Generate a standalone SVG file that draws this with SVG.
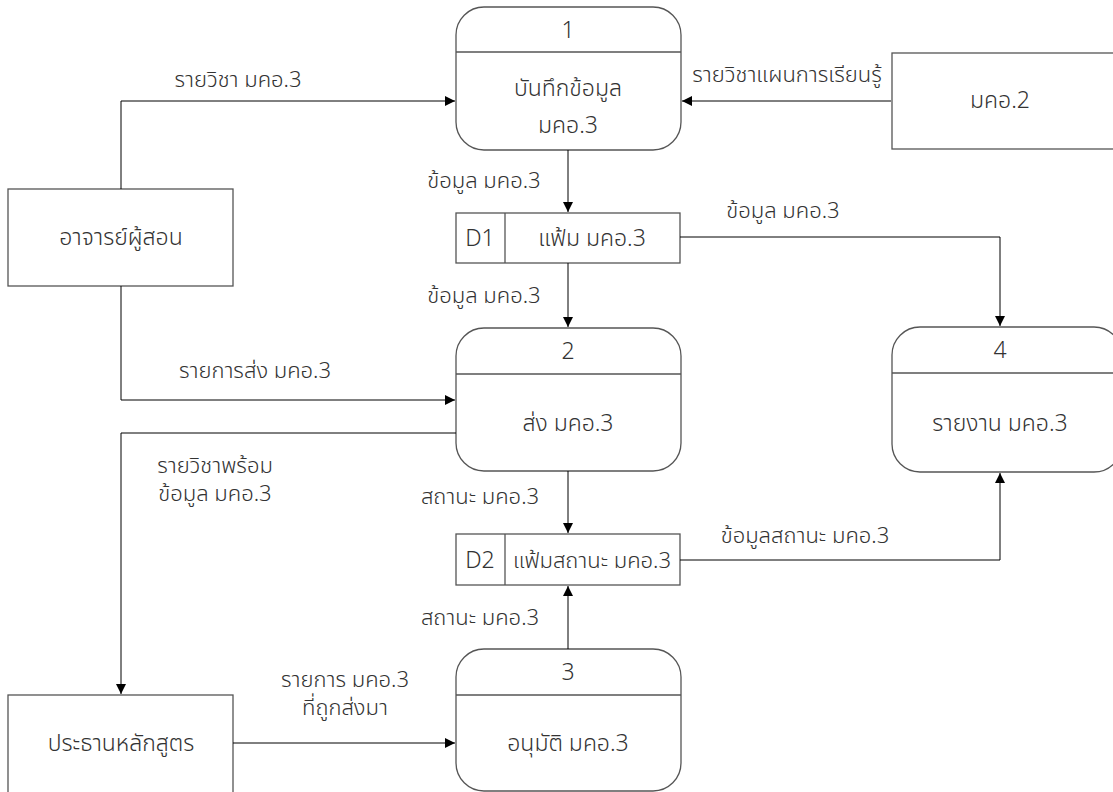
<svg xmlns="http://www.w3.org/2000/svg" width="1113" height="792" viewBox="0 0 1113 792">
<defs>
<marker id="arr" viewBox="0 0 10 10" refX="10" refY="5" markerWidth="10" markerHeight="10" markerUnits="userSpaceOnUse" orient="auto">
<path d="M0,0 L10,5 L0,10 z" fill="#000"/>
</marker>
<style>
.shape{fill:#fff;stroke:#555;stroke-width:1.3}
.div{stroke:#555;stroke-width:1.3;fill:none}
.conn{fill:none;stroke:#000;stroke-width:1;marker-end:url(#arr)}
text{font-family:"Noto Sans Thai","Noto Sans","Liberation Sans",sans-serif;fill:#333;text-anchor:middle;font-size:22px;font-weight:300}
.big{font-size:23px}
</style>
</defs>
<rect width="1113" height="792" fill="#fff"/>
<g id="p1">
<rect class="shape" x="456" y="7" width="225" height="143" rx="28"/>
<line class="div" x1="456" y1="52" x2="681" y2="52"/>
<text class="big" x="568" y="38">1</text>
<text class="big" x="568" y="96">บันทึกข้อมูล</text>
<text class="big" x="568" y="133">มคอ.3</text>
</g>
<g id="mko2">
<rect class="shape" x="892" y="53" width="230" height="96"/>
<text class="big" x="1000" y="108">มคอ.2</text>
</g>
<g id="teacher">
<rect class="shape" x="8" y="189" width="225" height="97"/>
<text class="big" x="121" y="245">อาจารย์ผู้สอน</text>
</g>
<g id="d1">
<rect class="shape" x="456" y="213" width="224" height="50"/>
<line class="div" x1="505" y1="213" x2="505" y2="263"/>
<text class="big" x="480" y="246">D1</text>
<text class="big" x="592" y="246">แฟ้ม มคอ.3</text>
</g>
<g id="p2">
<rect class="shape" x="456" y="328" width="225" height="143" rx="28"/>
<line class="div" x1="456" y1="374" x2="681" y2="374"/>
<text class="big" x="568" y="359">2</text>
<text class="big" x="568" y="431">ส่ง มคอ.3</text>
</g>
<g id="p4">
<rect class="shape" x="892" y="327" width="230" height="145" rx="28"/>
<line class="div" x1="892" y1="373" x2="1113" y2="373"/>
<text class="big" x="1000" y="358">4</text>
<text class="big" x="1000" y="431">รายงาน มคอ.3</text>
</g>
<g id="d2">
<rect class="shape" x="456" y="534" width="224" height="51"/>
<line class="div" x1="505" y1="534" x2="505" y2="585"/>
<text class="big" x="480" y="568">D2</text>
<text x="592" y="568">แฟ้มสถานะ มคอ.3</text>
</g>
<g id="chair">
<rect class="shape" x="8" y="695" width="225" height="110"/>
<text class="big" x="121" y="751">ประธานหลักสูตร</text>
</g>
<g id="p3">
<rect class="shape" x="456" y="649" width="225" height="142" rx="28"/>
<line class="div" x1="456" y1="695" x2="681" y2="695"/>
<text class="big" x="568" y="680">3</text>
<text class="big" x="568" y="751">อนุมัติ มคอ.3</text>
</g>
<g id="connectors">
<path class="conn" d="M121,189 V101 H455"/>
<path class="conn" d="M891,101 H682"/>
<path class="conn" d="M568,150 V212"/>
<path class="conn" d="M680,237 H1000 V326"/>
<path class="conn" d="M568,263 V327"/>
<path class="conn" d="M121,286 V400 H455"/>
<path class="conn" d="M456,433 H121 V694"/>
<path class="conn" d="M568,471 V533"/>
<path class="conn" d="M680,560 H1000 V473"/>
<path class="conn" d="M568,649 V586"/>
<path class="conn" d="M233,743 H455"/>
<text x="238" y="87">รายวิชา มคอ.3</text>
<text x="787" y="82">รายวิชาแผนการเรียนรู้</text>
<text x="484" y="188">ข้อมูล มคอ.3</text>
<text x="783" y="218">ข้อมูล มคอ.3</text>
<text x="484" y="303">ข้อมูล มคอ.3</text>
<text x="255" y="378">รายการส่ง มคอ.3</text>
<text x="215" y="473">รายวิชาพร้อม</text>
<text x="215" y="501">ข้อมูล มคอ.3</text>
<text x="480" y="504">สถานะ มคอ.3</text>
<text x="805" y="543">ข้อมูลสถานะ มคอ.3</text>
<text x="480" y="625">สถานะ มคอ.3</text>
<text x="345" y="687">รายการ มคอ.3</text>
<text x="345" y="715">ที่ถูกส่งมา</text>
</g>
</svg>
